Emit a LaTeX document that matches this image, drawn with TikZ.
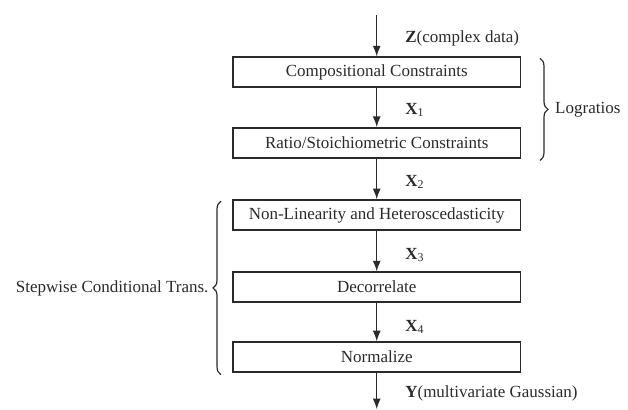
\documentclass[tikz,border=0pt]{standalone}
\usepackage{fontspec}
\setmainfont{Liberation Serif}
\usetikzlibrary{arrows.meta,decorations.pathreplacing}
\definecolor{cink}{HTML}{2a2a2a}

\begin{document}
\begin{tikzpicture}[
  stagebox/.style={draw=cink,line width=1.2pt,minimum width=7.6cm,minimum height=0.79cm,
    inner sep=0pt,text=cink,font=\fontsize{12.8}{15}\selectfont},
  flow/.style={draw=cink,line width=1pt,-{Latex[length=8pt,width=6pt]}},
  varlabel/.style={anchor=west,inner sep=0pt,text=cink,font=\fontsize{12.8}{15}\selectfont},
  brace/.style={draw=cink,line width=0.9pt,decorate,decoration={brace,amplitude=6pt}}]
  \useasboundingbox (0,0) rectangle (16.62,10.85);
  \coordinate (in) at (9.97,10.45);
  \coordinate (out) at (9.97,0.02);
  \node[stagebox] (comp) at (9.97,8.94) {Compositional Constraints};
  \node[stagebox] (ratio) at (9.97,7.07) {Ratio/Stoichiometric Constraints};
  \node[stagebox] (nonlin) at (9.97,5.16) {Non-Linearity and Heteroscedasticity};
  \node[stagebox] (decor) at (9.97,3.25) {Decorrelate};
  \node[stagebox] (norm) at (9.97,1.40) {Normalize};
  \draw[flow] (in) -- (comp);
  \draw[flow] (comp) -- (ratio);
  \draw[flow] (ratio) -- (nonlin);
  \draw[flow] (nonlin) -- (decor);
  \draw[flow] (decor) -- (norm);
  \draw[flow] (norm) -- (out);
  \node[varlabel] (zlab) at (10.72,9.84) {\textbf{Z}(complex data)};
  \node[varlabel] (x1) at (10.72,7.94) {\textbf{X}\textsubscript{1}};
  \node[varlabel] (x2) at (10.72,6.03) {\textbf{X}\textsubscript{2}};
  \node[varlabel] (x3) at (10.72,4.10) {\textbf{X}\textsubscript{3}};
  \node[varlabel] (x4) at (10.72,2.20) {\textbf{X}\textsubscript{4}};
  \node[varlabel] (ylab) at (10.72,0.45) {\textbf{Y}(multivariate Gaussian)};
  % braces
  \draw[brace] ([xshift=0.5cm,yshift=-0.05cm]comp.north east) -- ([xshift=0.5cm,yshift=-0.05cm]ratio.south east)
    node[midway,right=11pt,inner sep=0pt,text=cink,font=\fontsize{12.8}{15}\selectfont] (logr) {Logratios};
  \draw[brace] ([xshift=-0.3cm,yshift=-0.05cm]norm.south west) -- ([xshift=-0.3cm,yshift=-0.05cm]nonlin.north west)
    node[midway,left=9pt,inner sep=0pt,text=cink,font=\fontsize{12.8}{15}\selectfont] (stepw) {Stepwise Conditional Trans.};
\end{tikzpicture}
\end{document}
